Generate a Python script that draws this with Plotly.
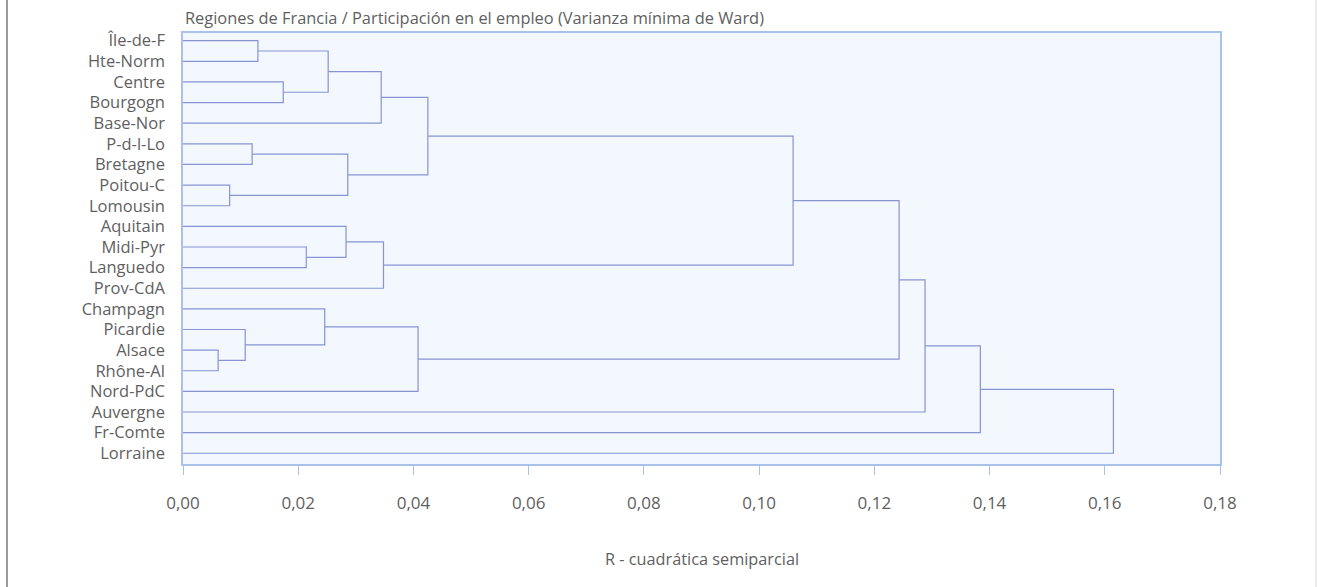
import plotly.graph_objects as go

# ---- data ----
leaves = ["Île-de-F", "Hte-Norm", "Centre", "Bourgogn", "Base-Nor", "P-d-l-Lo",
          "Bretagne", "Poitou-C", "Lomousin", "Aquitain", "Midi-Pyr", "Languedo",
          "Prov-CdA", "Champagn", "Picardie", "Alsace", "Rhône-Al", "Nord-PdC",
          "Auvergne", "Fr-Comte", "Lorraine"]
# merges: (child_a, child_b) ; new cluster ids start at len(leaves)
merge_a = [0, 2, 21, 23, 5, 7, 25, 24, 10, 9, 30, 28, 15, 14, 13, 35, 32, 37, 38, 39]
merge_b = [1, 3, 22, 4, 6, 8, 26, 27, 11, 29, 12, 31, 16, 33, 34, 17, 36, 18, 19, 20]
merge_h = [0.0130, 0.0174, 0.0252, 0.0344, 0.0120, 0.0081, 0.0286, 0.0425,
           0.0214, 0.0283, 0.0348, 0.1059, 0.0061, 0.0108, 0.0246, 0.0408,
           0.1243, 0.1288, 0.1384, 0.1615]
x_ticks = [0.00, 0.02, 0.04, 0.06, 0.08, 0.10, 0.12, 0.14, 0.16, 0.18]

# ---- build dendrogram segments ----
pos = {i: float(i) for i in range(len(leaves))}
hgt = {i: 0.0 for i in range(len(leaves))}
xs, ys = [], []
for k, (a, b, h) in enumerate(zip(merge_a, merge_b, merge_h)):
    nid = len(leaves) + k
    xs += [hgt[a], h, h, hgt[b], None]
    ys += [pos[a], pos[a], pos[b], pos[b], None]
    pos[nid] = (pos[a] + pos[b]) / 2
    hgt[nid] = h

FONT = "Open Sans"
TXT = "#5f5f5f"

fig = go.Figure()
fig.add_trace(go.Scatter(x=xs, y=ys, mode="lines",
                         line=dict(color="#8892d4", width=1.2),
                         hoverinfo="skip", showlegend=False))

fig.update_layout(
    width=1318, height=587,
    margin=dict(l=183, r=98, t=33, b=123),
    paper_bgcolor="white", plot_bgcolor="#f2f8fd",
    separators=", ",
    font=dict(family=FONT, color=TXT),
    showlegend=False,
)
fig.update_xaxes(range=[0, 0.18], tickvals=x_ticks, tickformat=".2f",
                 showgrid=False, zeroline=False,
                 showline=True, mirror=True, linecolor="#a9c2ea", linewidth=1.5,
                 ticks="outside", ticklen=9, tickcolor="#a9c2ea", tickwidth=1,
                 ticklabelstandoff=14,
                 tickfont=dict(family=FONT, size=17, color=TXT))
fig.update_yaxes(range=[20.52, -0.373], tickvals=list(range(len(leaves))),
                 ticktext=leaves, showgrid=False, zeroline=False,
                 showline=True, mirror=True, linecolor="#a9c2ea", linewidth=1.5,
                 ticks="", ticklabelstandoff=13,
                 tickfont=dict(family=FONT, size=16.5, color=TXT))

fig.add_annotation(text="Regiones de Francia / Participación en el empleo (Varianza mínima de Ward)",
                   xref="paper", yref="paper", x=0, y=1.037,
                   xanchor="left", yanchor="middle", showarrow=False,
                   font=dict(family=FONT, size=16.4, color=TXT))
fig.add_annotation(text="R - cuadrática semiparcial",
                   xref="paper", yref="paper", x=0.5, y=-0.2204,
                   xanchor="center", yanchor="middle", showarrow=False,
                   font=dict(family=FONT, size=16.3, color=TXT))

# outer frame lines of the page
fig.add_shape(type="line", xref="paper", yref="paper",
              x0=-0.1697, x1=-0.1697, y0=-0.30, y1=1.08,
              line=dict(color="#9a9a9a", width=2))
fig.add_shape(type="line", xref="paper", yref="paper",
              x0=1.0926, x1=1.0926, y0=-0.30, y1=1.08,
              line=dict(color="#d8d8d8", width=1))

fig.write_html("out.html",
               config={"displayModeBar": False},
               post_script="document.body.style.margin='0';document.body.style.overflow='hidden';")
